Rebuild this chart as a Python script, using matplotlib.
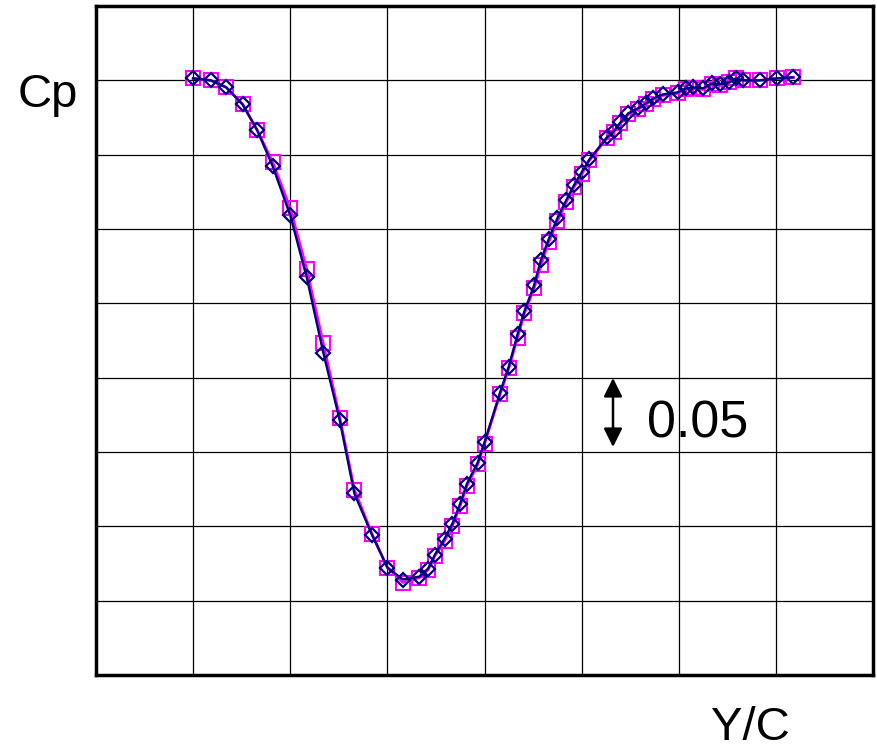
import numpy as np
import matplotlib
matplotlib.use('Agg')
import matplotlib.pyplot as plt

plt.rcParams['font.family'] = ['Liberation Sans', 'DejaVu Sans']

# spanwise stations and pressure coefficient, two runs
yc = [-0.300, -0.282, -0.266, -0.249, -0.234, -0.218, -0.200, -0.183, -0.166, -0.149,
      -0.134, -0.116, -0.100, -0.084, -0.067, -0.058, -0.051, -0.041, -0.033, -0.025,
      -0.018, -0.007, 0.000, 0.016, 0.025, 0.034, 0.041, 0.051, 0.058, 0.066,
      0.075, 0.084, 0.092, 0.100, 0.108, 0.126, 0.133, 0.140, 0.148, 0.158,
      0.166, 0.174, 0.184, 0.199, 0.207, 0.215, 0.225, 0.234, 0.242, 0.252,
      0.259, 0.266, 0.284, 0.301, 0.318]

cp_run1 = [0.0013, 0.0000, -0.0047, -0.0162, -0.0336, -0.0579, -0.0908, -0.1326, -0.1831, -0.2288,
           -0.2779, -0.3055, -0.3277, -0.3358, -0.3338, -0.3284, -0.3190, -0.3082, -0.2981, -0.2847,
           -0.2712, -0.2571, -0.2436, -0.2100, -0.1925, -0.1709, -0.1554, -0.1380, -0.1211, -0.1070,
           -0.0928, -0.0808, -0.0707, -0.0619, -0.0532, -0.0384, -0.0343, -0.0283, -0.0222, -0.0188,
           -0.0155, -0.0121, -0.0094, -0.0081, -0.0054, -0.0047, -0.0054, -0.0020, -0.0027, -0.0013,
           0.0013, 0.0000, 0.0000, 0.0013, 0.0020]

cp_run2 = [0.0013, 0.0000, -0.0047, -0.0162, -0.0336, -0.0552, -0.0861, -0.1272, -0.1770, -0.2268,
           -0.2753, -0.3049, -0.3277, -0.3378, -0.3345, -0.3291, -0.3197, -0.3096, -0.2995, -0.2860,
           -0.2726, -0.2584, -0.2443, -0.2113, -0.1938, -0.1730, -0.1568, -0.1400, -0.1245, -0.1090,
           -0.0949, -0.0821, -0.0720, -0.0633, -0.0538, -0.0390, -0.0350, -0.0289, -0.0229, -0.0195,
           -0.0162, -0.0128, -0.0101, -0.0087, -0.0061, -0.0054, -0.0061, -0.0027, -0.0034, -0.0013,
           0.0013, 0.0000, 0.0000, 0.0013, 0.0020]

fig = plt.figure(figsize=(8.77, 7.5), dpi=100)
ax = fig.add_axes([96/877, 1-675/750, 777/877, 669/750])

ax.plot(yc, cp_run2, color='#ff00ff', lw=2.0, marker='s', ms=9.5, mfc='none',
        mec='#ff00ff', mew=1.5, zorder=3)
ax.plot(yc, cp_run1, color='#000080', lw=1.7, marker='D', ms=7.5, mfc='none',
        mec='#000080', mew=1.6, zorder=4)

ax.set_xlim(-0.4, 0.4)
ax.set_ylim(-0.40, 0.05)
ax.set_xticks(np.arange(-0.3, 0.35, 0.1))
ax.set_yticks(np.arange(-0.35, 0.01, 0.05))
ax.grid(True, color='black', lw=0.9)
ax.tick_params(length=0, labelbottom=False, labelleft=False)
for s in ax.spines.values():
    s.set_linewidth(2.5)

# scale bar for Cp
ax.annotate('', xy=(613/877, 1-378/750), xytext=(613/877, 1-447/750),
            xycoords='figure fraction', textcoords='figure fraction',
            arrowprops=dict(arrowstyle='<|-|>', color='black', lw=1.8,
                            mutation_scale=28, shrinkA=0, shrinkB=0))
fig.text(647/877, 1-424/750, '0.05', fontsize=37.5, va='center', ha='left')

fig.text(18/877, 1-95/750, 'Cp', fontsize=34, va='center', ha='left')
fig.text(750/877, 1-728/750, 'Y/C', fontsize=34, va='center', ha='center')

fig.savefig('out.png', dpi=100)
